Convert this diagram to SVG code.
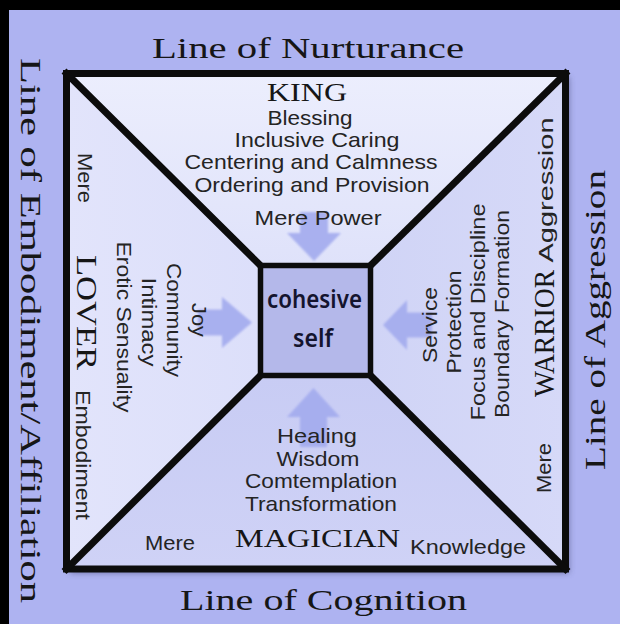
<svg xmlns="http://www.w3.org/2000/svg" width="620" height="624" viewBox="0 0 620 624">
<style>
.sans{font-family:"Liberation Sans",Arial,sans-serif;font-size:21px;fill:#242424;text-anchor:middle}
.serif{font-family:"Liberation Serif","Times New Roman",serif;fill:#161616;text-anchor:middle}
.big{font-size:30px}
.role{font-size:25px}
.roleR{font-size:30px}
.edge{fill:none;stroke:#0c0c0c;stroke-width:7;stroke-linejoin:miter;stroke-linecap:square}
.arrow{fill:#a3abee;opacity:0.9;filter:url(#soft)}
.core{font-family:"Noto Sans","Open Sans",sans-serif;font-size:26px;font-weight:600;fill:#14142e;text-anchor:middle}
</style>
<defs>
<filter id="shadow" x="-10%" y="-10%" width="130%" height="130%"><feGaussianBlur stdDeviation="3"/></filter>
<filter id="soft" x="-20%" y="-20%" width="140%" height="140%"><feGaussianBlur stdDeviation="0.8"/></filter>
<linearGradient id="gTop" x1="0" y1="0" x2="0" y2="1"><stop offset="0" stop-color="#eceefd"/><stop offset="1" stop-color="#dfe2fa"/></linearGradient>
<linearGradient id="gLeft" x1="0" y1="0" x2="1" y2="0"><stop offset="0" stop-color="#e2e4fb"/><stop offset="1" stop-color="#dcdffa"/></linearGradient>
<linearGradient id="gRight" x1="0" y1="0" x2="1" y2="0"><stop offset="0" stop-color="#d0d4f6"/><stop offset="1" stop-color="#d6d9f8"/></linearGradient>
<linearGradient id="gBot" x1="0" y1="0" x2="0" y2="1"><stop offset="0" stop-color="#c8ccf4"/><stop offset="1" stop-color="#cfd2f6"/></linearGradient>
</defs>
<rect x="0" y="0" width="620" height="624" fill="#000"/>
<rect x="9" y="10" width="611" height="614" fill="#aeb3f1"/>
<rect x="70" y="77" width="499" height="496" fill="#3a3d6a" opacity="0.55" filter="url(#shadow)"/>

<g id="king">
<polygon points="66.5,73.5 565.5,73.5 370.5,265.5 260.5,265.5" fill="url(#gTop)"/>
</g>
<g id="warrior">
<polygon points="565.5,73.5 565.5,569 370.5,375.5 370.5,265.5" fill="url(#gRight)"/>
</g>
<g id="magician">
<polygon points="66.5,569 565.5,569 370.5,375.5 260.5,375.5" fill="url(#gBot)"/>
</g>
<g id="lover">
<polygon points="66.5,73.5 260.5,265.5 260.5,375.5 66.5,569" fill="url(#gLeft)"/>
</g>

<g id="connectors">
<path class="arrow" d="M300,212 H328 V233 H341 L314,261 L287,233 H300 Z"/>
<path class="arrow" d="M300,447 V417 H287 L313.5,388 L340,417 H327 V447 Z"/>
<path class="arrow" d="M198,309.5 H222 V297 L252,322.5 L222,348 V335.5 H198 Z"/>
<path class="arrow" d="M432,312.5 H407 V300 L383,325 L407,350 V337.5 H432 Z"/>
</g>

<g id="frame">
<rect class="edge" x="66.5" y="73.5" width="499" height="495.5"/>
<line class="edge" x1="66.5" y1="73.5" x2="260.5" y2="265.5"/>
<line class="edge" x1="565.5" y1="73.5" x2="370.5" y2="265.5"/>
<line class="edge" x1="66.5" y1="569" x2="260.5" y2="375.5"/>
<line class="edge" x1="565.5" y1="569" x2="370.5" y2="375.5"/>
</g>

<g id="cohesive-self">
<rect x="260.5" y="265.5" width="110" height="110" fill="#b4b8ea" stroke="#0c0c0c" stroke-width="5.5"/>
<text class="core" x="314.5" y="308" textLength="95" lengthAdjust="spacingAndGlyphs">cohesive</text>
<text class="core" x="313" y="347" textLength="40" lengthAdjust="spacingAndGlyphs">self</text>
</g>

<g id="king-text">
<text class="serif role" x="307" y="101" textLength="80" lengthAdjust="spacingAndGlyphs">KING</text>
<text class="sans" x="310" y="125" textLength="85" lengthAdjust="spacingAndGlyphs">Blessing</text>
<text class="sans" x="317" y="147" textLength="165" lengthAdjust="spacingAndGlyphs">Inclusive Caring</text>
<text class="sans" x="311" y="169" textLength="253" lengthAdjust="spacingAndGlyphs">Centering and Calmness</text>
<text class="sans" x="312" y="192" textLength="235" lengthAdjust="spacingAndGlyphs">Ordering and Provision</text>
<text class="sans" x="318" y="225" textLength="127" lengthAdjust="spacingAndGlyphs">Mere Power</text>
</g>

<g id="magician-text">
<text class="sans" x="317" y="443" textLength="80" lengthAdjust="spacingAndGlyphs">Healing</text>
<text class="sans" x="318" y="466" textLength="83" lengthAdjust="spacingAndGlyphs">Wisdom</text>
<text class="sans" x="321" y="488" textLength="152" lengthAdjust="spacingAndGlyphs">Comtemplation</text>
<text class="sans" x="321" y="511" textLength="152" lengthAdjust="spacingAndGlyphs">Transformation</text>
<text class="serif role" x="317.5" y="547" textLength="165" lengthAdjust="spacingAndGlyphs">MAGICIAN</text>
<text class="sans" x="170" y="550" font-size="21" textLength="50" lengthAdjust="spacingAndGlyphs">Mere</text>
<text class="sans" x="468" y="554" font-size="21" textLength="116" lengthAdjust="spacingAndGlyphs">Knowledge</text>
</g>

<g id="lover-text">
<text class="sans" transform="translate(78,178) rotate(90)" textLength="50" lengthAdjust="spacingAndGlyphs">Mere</text>
<text class="serif roleR" transform="translate(77,312.5) rotate(90)" textLength="115" lengthAdjust="spacingAndGlyphs">LOVER</text>
<text class="sans" transform="translate(76,455) rotate(90)" textLength="130" lengthAdjust="spacingAndGlyphs">Embodiment</text>
<text class="sans" transform="translate(117,327) rotate(90)" textLength="171" lengthAdjust="spacingAndGlyphs">Erotic Sensuality</text>
<text class="sans" transform="translate(142,322) rotate(90)" textLength="89" lengthAdjust="spacingAndGlyphs">Intimacy</text>
<text class="sans" transform="translate(167,320) rotate(90)" textLength="114" lengthAdjust="spacingAndGlyphs">Community</text>
<text class="sans" transform="translate(192,320) rotate(90)" textLength="34" lengthAdjust="spacingAndGlyphs">Joy</text>
</g>

<g id="warrior-text">
<text class="sans" transform="translate(437,325) rotate(-90)" textLength="76" lengthAdjust="spacingAndGlyphs">Service</text>
<text class="sans" transform="translate(461,322) rotate(-90)" textLength="103" lengthAdjust="spacingAndGlyphs">Protection</text>
<text class="sans" transform="translate(485,312) rotate(-90)" textLength="217" lengthAdjust="spacingAndGlyphs">Focus and Discipline</text>
<text class="sans" transform="translate(509,314) rotate(-90)" textLength="208" lengthAdjust="spacingAndGlyphs">Boundary Formation</text>
<text class="serif roleR" transform="translate(554,333.5) rotate(-90)" textLength="127" lengthAdjust="spacingAndGlyphs">WARRIOR</text>
<text class="sans" transform="translate(553,190) rotate(-90)" textLength="145" lengthAdjust="spacingAndGlyphs">Aggression</text>
<text class="sans" transform="translate(551,468) rotate(-90)" textLength="50" lengthAdjust="spacingAndGlyphs">Mere</text>
</g>

<g id="axis-labels">
<text class="serif big" x="308" y="58" textLength="312" lengthAdjust="spacingAndGlyphs">Line of Nurturance</text>
<text class="serif big" x="323.5" y="610" textLength="287" lengthAdjust="spacingAndGlyphs">Line of Cognition</text>
<text class="serif big" transform="translate(21,330.5) rotate(90)" textLength="545" lengthAdjust="spacingAndGlyphs">Line of Embodiment/Affiliation</text>
<text class="serif big" transform="translate(605,320) rotate(-90)" textLength="300" lengthAdjust="spacingAndGlyphs">Line of Aggression</text>
</g>
</svg>
